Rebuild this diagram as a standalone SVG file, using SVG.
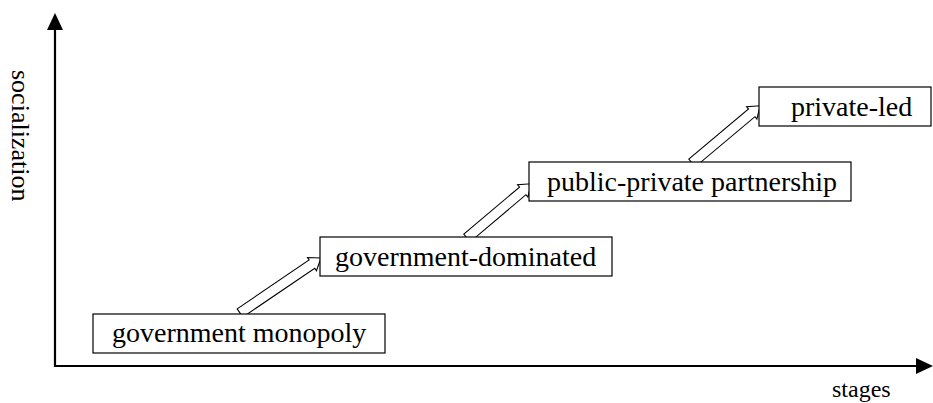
<svg xmlns="http://www.w3.org/2000/svg" width="933" height="403" viewBox="0 0 933 403">
<defs>
<style>
.box{fill:#fff;stroke:#000;stroke-width:1.2}
.axis{stroke:#000;stroke-width:2.2;fill:none}
.blk{fill:#fff;stroke:#000;stroke-width:1.1;stroke-linejoin:miter}
</style>
</defs>
<rect width="933" height="403" fill="#fff"/>
<g id="axes">
<line class="axis" x1="55" y1="367" x2="55" y2="28"/>
<polygon points="55,13 47,30 63,30" fill="#000"/>
<line class="axis" x1="54" y1="366" x2="918" y2="366"/>
<polygon points="933,366 916,358 916,374" fill="#000"/>
<text font-family="Liberation Serif, Times New Roman, serif" font-size="26" transform="translate(12,70) rotate(90)">socialization</text>
<text font-family="Liberation Serif, Times New Roman, serif" font-size="24" x="832" y="397">stages</text>
</g>
<g id="connectors">
<path class="blk" transform="translate(240,313) rotate(-34.2)" d="M0,-5 L87,-5 L87,-8 L98,0 L87,8 L87,5 L0,5 Z"/>
<path class="blk" transform="translate(467,238) rotate(-40.2)" d="M0,-5 L73,-5 L73,-8 L84,0 L73,8 L73,5 L0,5 Z"/>
<path class="blk" transform="translate(692,163) rotate(-40)" d="M0,-5 L78,-5 L78,-8 L89,0 L78,8 L78,5 L0,5 Z"/>
</g>
<g id="n1">
<rect class="box" x="93" y="314" width="292" height="39"/>
<text font-family="Liberation Serif, Times New Roman, serif" font-size="28" x="112" y="342">government monopoly</text>
</g>
<g id="n2">
<rect class="box" x="320" y="237" width="292" height="39"/>
<text font-family="Liberation Serif, Times New Roman, serif" font-size="28" x="335" y="266">government-dominated</text>
</g>
<g id="n3">
<rect class="box" x="529" y="162" width="322" height="39"/>
<text font-family="Liberation Serif, Times New Roman, serif" font-size="28" x="547" y="191">public-private partnership</text>
</g>
<g id="n4">
<rect class="box" x="759" y="87" width="172" height="39"/>
<text font-family="Liberation Serif, Times New Roman, serif" font-size="28" x="791" y="116">private-led</text>
</g>
</svg>
